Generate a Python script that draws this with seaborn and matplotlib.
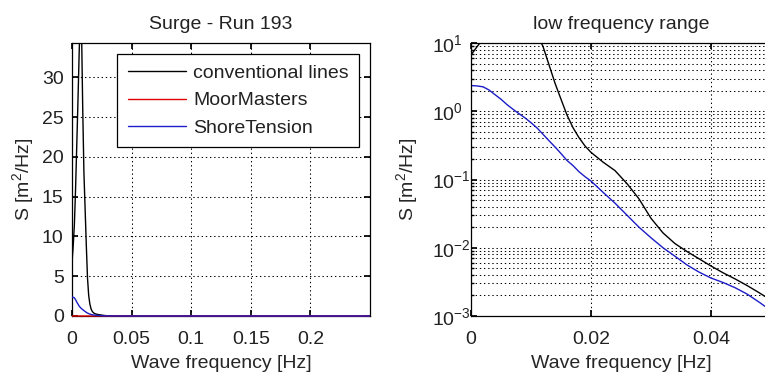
import numpy as np
import pandas as pd
import matplotlib
matplotlib.use("Agg")
import matplotlib.pyplot as plt
from matplotlib.transforms import Bbox, TransformedBbox
import seaborn as sns

# ---- data ----
freq = [0.000, 0.001, 0.002, 0.003, 0.004, 0.005, 0.006, 0.007, 0.008, 0.009,
        0.010, 0.011, 0.012, 0.013, 0.014, 0.015, 0.016, 0.017, 0.018, 0.019,
        0.020, 0.022, 0.024, 0.026, 0.028, 0.030, 0.032, 0.034, 0.036, 0.038,
        0.040, 0.042, 0.044, 0.046, 0.048, 0.050, 0.060, 0.080, 0.100, 0.150,
        0.200, 0.250]
conventional = [6.7, 8.8, 11.5, 16, 21.5, 27, 33, 38, 36, 26,
                18, 13.5, 8.9, 4.8, 2.58, 1.5, 0.88, 0.575, 0.41, 0.31,
                0.25, 0.18, 0.135, 0.087, 0.052, 0.027, 0.0165, 0.0115, 0.0088, 0.0069,
                0.0054, 0.0043, 0.0035, 0.0028, 0.0022, 0.0017, 0.0008, 0.0004, 0.0003, 0.0002,
                0.0001, 0.0001]
moormasters = [6e-4, 6e-4, 5.8e-4, 5.6e-4, 5.4e-4, 5.2e-4, 5e-4, 4.8e-4, 4.6e-4, 4.4e-4,
               4.2e-4, 4e-4, 3.8e-4, 3.6e-4, 3.4e-4, 3.2e-4, 3e-4, 2.8e-4, 2.6e-4, 2.4e-4,
               2.2e-4, 2e-4, 1.8e-4, 1.6e-4, 1.5e-4, 1.4e-4, 1.3e-4, 1.2e-4, 1.1e-4, 1e-4,
               9e-5, 8e-5, 7e-5, 6e-5, 5e-5, 4e-5, 3e-5, 2e-5, 2e-5, 1e-5,
               1e-5, 1e-5]
shoretension = [2.38, 2.35, 2.28, 2.05, 1.75, 1.5, 1.25, 1.07, 0.92, 0.8,
                0.68, 0.57, 0.46, 0.37, 0.30, 0.24, 0.19, 0.16, 0.13, 0.11,
                0.095, 0.065, 0.045, 0.030, 0.020, 0.014, 0.010, 0.0075, 0.0056, 0.0044,
                0.0036, 0.0031, 0.0026, 0.0021, 0.0016, 0.0012, 0.0005, 0.0003, 0.0002, 0.0001,
                0.0001, 0.0001]
series_names = ["conventional lines", "MoorMasters", "ShoreTension"]
series_colors = ["#000000", "#e00000", "#1c1cc8"]
left_xticks = [0, 0.05, 0.1, 0.15, 0.2]
left_xticklabels = ["0", "0.05", "0.1", "0.15", "0.2"]
left_yticks = [0, 5, 10, 15, 20, 25, 30]
right_xticks = [0, 0.02, 0.04]
right_xticklabels = ["0", "0.02", "0.04"]

df = pd.DataFrame({
    "f": freq * 3,
    "S": conventional + moormasters + shoretension,
    "series": [series_names[0]] * len(freq) + [series_names[1]] * len(freq) + [series_names[2]] * len(freq),
})

FS = 14
sns.set_theme(style="white")
plt.rcParams.update({
    "font.family": ["Liberation Sans", "DejaVu Sans"],
    "mathtext.fontset": "custom",
    "mathtext.rm": "Liberation Sans",
    "mathtext.it": "Liberation Sans:italic",
    "mathtext.bf": "Liberation Sans:bold",
    "font.size": FS,
    "axes.edgecolor": "black",
    "axes.linewidth": 0.9,
    "xtick.direction": "in",
    "ytick.direction": "in",
    "xtick.top": True,
    "ytick.right": True,
    "xtick.major.size": 4,
    "ytick.major.size": 4,
    "ytick.minor.size": 2,
    "xtick.color": "black",
    "ytick.color": "black",
    "xtick.labelsize": FS,
    "ytick.labelsize": FS,
    "xtick.bottom": True,
    "ytick.left": True,
    "text.color": "#222222",
})

fig = plt.figure(figsize=(7.65, 3.74), dpi=100)
ax1 = fig.add_axes([72 / 765, 1 - 316 / 374, 298 / 765, 273 / 374])
ax2 = fig.add_axes([471 / 765, 1 - 316 / 374, 300 / 765, 273 / 374])

palette = dict(zip(series_names, series_colors))
grid_kw = dict(color="black", linewidth=0.75, linestyle=(0, (1.3, 2.7)))

for ax in (ax1, ax2):
    sns.lineplot(data=df, x="f", y="S", hue="series", hue_order=series_names,
                 palette=palette, estimator=None, sort=False, linewidth=1.0,
                 ax=ax, legend=(ax is ax1))
    ax.set_xlabel("Wave frequency [Hz]", fontsize=FS, labelpad=5)
    ax.tick_params(axis="both", which="both", direction="in", top=True, right=True,
                   labelsize=FS, labelcolor="#222222")
    ax.tick_params(axis="x", pad=11)

ax1.set_ylabel("S [m$^2$/Hz]", fontsize=FS, labelpad=4)
ax2.set_ylabel("S [m$^2$/Hz]", fontsize=FS, labelpad=9)
ax1.tick_params(axis="y", pad=6)
ax2.tick_params(axis="y", pad=28)

# left panel
ax1.set_xlim(0, 0.25)
ax1.set_ylim(0, 34.3)
ax1.set_xticks(left_xticks)
ax1.set_xticklabels(left_xticklabels)
ax1.set_yticks(left_yticks)
ax1.grid(True, which="major", **grid_kw)
ax1.set_title("Surge - Run 193", fontsize=FS, pad=10)
# let the curves lying on y=0 show their full width over the bottom frame
clip = TransformedBbox(Bbox([[0, -0.012], [1, 1]]), ax1.transAxes)
for ln in ax1.lines:
    ln.set_clip_box(clip)
    ln.set_zorder(3)
h, l = ax1.get_legend_handles_labels()
leg = ax1.legend(h, l, loc="upper right", fontsize=FS, frameon=True, fancybox=False,
                 framealpha=1, edgecolor="black", handlelength=3.0, handletextpad=0.35,
                 labelspacing=0.5, borderaxespad=0.55, borderpad=0.55, title=None)
leg.get_frame().set_linewidth(0.9)
leg.set_zorder(5)

# right panel
ax2.set_yscale("log")
ax2.set_xlim(0, 0.05)
ax2.set_ylim(1e-3, 10)
ax2.set_xticks(right_xticks)
ax2.set_xticklabels(right_xticklabels)
ax2.yaxis.set_major_locator(matplotlib.ticker.LogLocator(base=10, numticks=10))
ax2.yaxis.set_minor_locator(matplotlib.ticker.LogLocator(base=10, subs=np.arange(2, 10), numticks=10))
ax2.yaxis.set_minor_formatter(matplotlib.ticker.NullFormatter())
for lab in ax2.get_yticklabels():
    lab.set_horizontalalignment("left")
ax2.grid(True, which="major", axis="both", **grid_kw)
ax2.grid(True, which="minor", axis="y", **grid_kw)
ax2.set_title("low frequency range", fontsize=FS, pad=10)

fig.savefig("out.png", dpi=100)
